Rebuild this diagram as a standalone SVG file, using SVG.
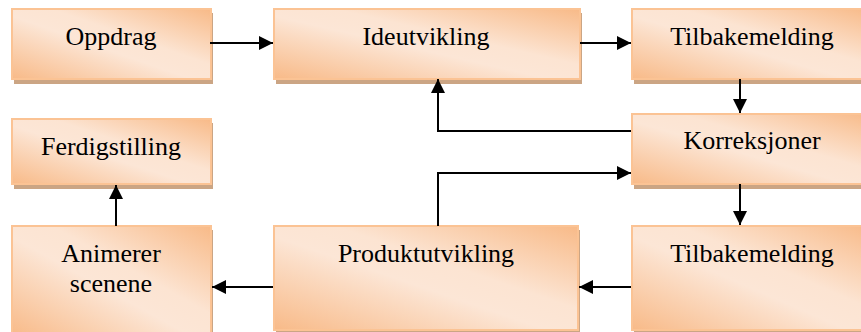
<svg xmlns="http://www.w3.org/2000/svg" width="861" height="332" viewBox="0 0 861 332">
<defs>
<linearGradient id="g" x1="0" y1="1" x2="1" y2="0">
<stop offset="0" stop-color="#F8BA88"/>
<stop offset="0.45" stop-color="#FCE6D6"/>
<stop offset="0.6" stop-color="#FCE4D2"/>
<stop offset="1" stop-color="#F8BA88"/>
</linearGradient>
<marker id="ah" viewBox="0 0 10 10" refX="10" refY="5" markerWidth="10" markerHeight="10" markerUnits="userSpaceOnUse" orient="auto">
<path d="M0,0 L10,5 L0,10 z" fill="#000"/>
</marker>
<marker id="ah2" viewBox="0 0 14 14" refX="14" refY="7" markerWidth="14" markerHeight="14" markerUnits="userSpaceOnUse" orient="auto">
<path d="M0,0 L14,7 L0,14 z" fill="#000"/>
</marker>
</defs>
<style>
.sh{fill:#CBA584;}
.bx{fill:url(#g);stroke:#FBC394;stroke-width:2;}
.t{font-family:"Liberation Serif","Times New Roman",serif;font-size:26px;fill:#000;text-anchor:middle;}
.c{fill:none;stroke:#000;stroke-width:2;marker-end:url(#ah2);}
.l{fill:none;stroke:#000;stroke-width:2;}
</style>
<g id="oppdrag">
<rect class="sh" x="14" y="13" width="199" height="71"/>
<rect class="bx" x="12" y="9" width="199" height="70"/>
<text class="t" x="111" y="45">Oppdrag</text>
</g>
<g id="ideutvikling">
<rect class="sh" x="276" y="13" width="306" height="71"/>
<rect class="bx" x="274" y="9" width="306" height="70"/>
<text class="t" x="426" y="45">Ideutvikling</text>
</g>
<g id="tilbakemelding1">
<rect class="sh" x="634" y="13" width="240" height="71"/>
<rect class="bx" x="632" y="9" width="240" height="70"/>
<text class="t" x="752" y="45">Tilbakemelding</text>
</g>
<g id="korreksjoner">
<rect class="sh" x="634" y="118" width="240" height="71"/>
<rect class="bx" x="632" y="114" width="240" height="70"/>
<text class="t" x="752" y="149">Korreksjoner</text>
</g>
<g id="ferdigstilling">
<rect class="sh" x="14" y="123" width="199" height="66"/>
<rect class="bx" x="12" y="119" width="199" height="65"/>
<text class="t" x="111" y="155">Ferdigstilling</text>
</g>
<g id="animerer">
<rect class="sh" x="14" y="230" width="199" height="110"/>
<rect class="bx" x="12" y="226" width="199" height="110"/>
<text class="t" x="111" y="262">Animerer</text>
<text class="t" x="111" y="292">scenene</text>
</g>
<g id="produktutvikling">
<rect class="sh" x="276" y="230" width="304" height="104"/>
<rect class="bx" x="274" y="226" width="304" height="104"/>
<text class="t" x="426" y="262">Produktutvikling</text>
</g>
<g id="tilbakemelding2">
<rect class="sh" x="634" y="230" width="240" height="104"/>
<rect class="bx" x="632" y="226" width="240" height="104"/>
<text class="t" x="752" y="262">Tilbakemelding</text>
</g>
<g id="connectors">
<path class="c" d="M210,43 L273,43"/>
<path class="c" d="M580,43 L631,43"/>
<path class="c" d="M740,79 L740,113"/>
<path class="c" d="M631,131 L438,131 L438,79"/>
<path class="c" d="M438,226 L438,173 L631,173"/>
<path class="c" d="M740,184 L740,225"/>
<path class="c" d="M631,287 L579,287"/>
<path class="c" d="M273,287 L212,287"/>
<path class="c" d="M116,226 L116,185"/>
</g>
</svg>
